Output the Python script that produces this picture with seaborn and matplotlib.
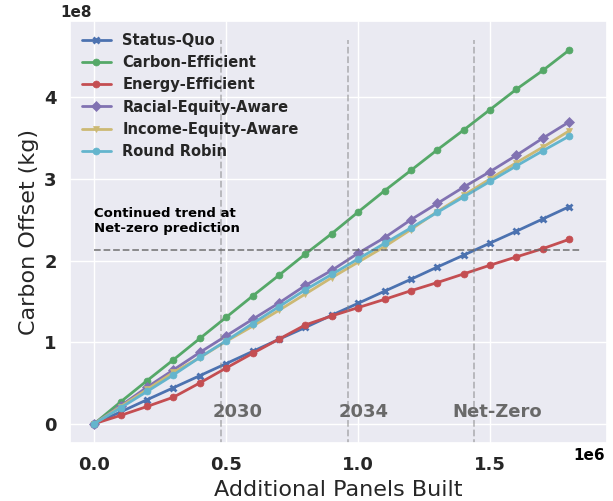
import numpy as np
import pandas as pd
import matplotlib
matplotlib.use("Agg")
import matplotlib.pyplot as plt
import seaborn as sns

# panels built (x axis), one point every 100k panels
panels = [i * 1e5 for i in range(19)]

# carbon offset in units of 1e8 kg
status_quo = [0, 0.145, 0.294, 0.441, 0.589, 0.737, 0.886, 1.035, 1.18, 1.33, 1.476,
              1.624, 1.77, 1.92, 2.066, 2.214, 2.36, 2.51, 2.66]
carbon_eff = [0, 0.268, 0.528, 0.784, 1.045, 1.305, 1.565, 1.82, 2.08, 2.33, 2.595,
              2.855, 3.105, 3.357, 3.60, 3.85, 4.10, 4.33, 4.58]
energy_eff = [0, 0.102, 0.211, 0.325, 0.50, 0.683, 0.862, 1.037, 1.211, 1.321, 1.423,
              1.524, 1.63, 1.73, 1.836, 1.943, 2.045, 2.146, 2.26]
racial_eq = [0, 0.22, 0.447, 0.66, 0.874, 1.077, 1.28, 1.48, 1.695, 1.88, 2.09,
             2.28, 2.50, 2.70, 2.90, 3.09, 3.29, 3.50, 3.70]
income_eq = [0, 0.21, 0.42, 0.63, 0.81, 1.01, 1.195, 1.39, 1.59, 1.79, 1.98,
             2.17, 2.38, 2.60, 2.80, 3.00, 3.20, 3.39, 3.59]
round_robin = [0, 0.195, 0.395, 0.598, 0.813, 1.016, 1.228, 1.435, 1.642, 1.83, 2.02,
               2.21, 2.40, 2.59, 2.78, 2.97, 3.16, 3.345, 3.525]

series_names = ["Status-Quo", "Carbon-Efficient", "Energy-Efficient",
                "Racial-Equity-Aware", "Income-Equity-Aware", "Round Robin"]
series_vals = [status_quo, carbon_eff, energy_eff, racial_eq, income_eq, round_robin]

# milestone lines and their labels
milestone_x = [0.48e6, 0.96e6, 1.44e6]
milestone_labels = ["2030", "2034", "Net-Zero"]
milestone_label_x = [0.544e6, 1.021e6, 1.528e6]
netzero_y = 2.13e8

sns.set_theme(style="darkgrid")
colors = ["#4C72B0", "#55A868", "#C44E52", "#8172B2", "#CCB974", "#64B5CD"]
markers = ["x", "o", "o", "D", "v", "o"]

fig, ax = plt.subplots(figsize=(6.13, 5.01), dpi=100)
fig.subplots_adjust(left=0.114, right=0.990, top=0.958, bottom=0.116)

for name, vals, c, m in zip(series_names, series_vals, colors, markers):
    y = np.array(vals) * 1e8
    sns.lineplot(x=panels, y=y, ax=ax, color=c, marker=m,
                 markersize=5.5 if m == "D" else 5,
                 markeredgewidth=2 if m == "x" else 0.5, markeredgecolor=c,
                 linewidth=2, label=name)

ax.vlines(milestone_x, -0.5e8, 4.7e8, colors="gray", linestyles="--", alpha=0.5, linewidth=1.3)
ax.hlines(netzero_y, 0, 1.85e6, colors="dimgray", linestyles="--", alpha=0.8, linewidth=1.3)

for xv, lab in zip(milestone_label_x, milestone_labels):
    ax.text(xv, 0.14e8, lab, ha="center", va="center", fontsize=13,
            fontweight="bold", color="dimgray")

ax.text(0, 2.31e8, "Continued trend at\nNet-zero prediction", ha="left", va="bottom",
        fontsize=9.5, fontweight="bold", color="black")

ax.set_ylim(-0.235e8, 4.935e8)
ax.set_xlabel("Additional Panels Built", fontsize=16)
ax.set_ylabel("Carbon Offset (kg)", fontsize=16)
ax.set_xticks([0, 0.5e6, 1.0e6, 1.5e6])
ax.set_yticks([0, 1e8, 2e8, 3e8, 4e8])
for lab in ax.get_xticklabels() + ax.get_yticklabels():
    lab.set_fontweight("bold")
    lab.set_fontsize(13)

# offset texts: y one shifted a bit left, x one sits at tick label level
ax.yaxis.get_offset_text().set_fontweight("bold")
ax.yaxis.get_offset_text().set_fontsize(11)
ax.yaxis.get_offset_text().set_x(-0.018)
ax.xaxis.get_offset_text().set_visible(False)
ax.text(0.997, -0.012, "1e6", transform=ax.transAxes, ha="right", va="top",
        fontsize=11, fontweight="bold", color="black")

leg = ax.legend(loc="upper left", prop={"weight": "bold", "size": 10.5}, frameon=False,
                borderaxespad=0.4)

fig.savefig("out.png", dpi=100)
